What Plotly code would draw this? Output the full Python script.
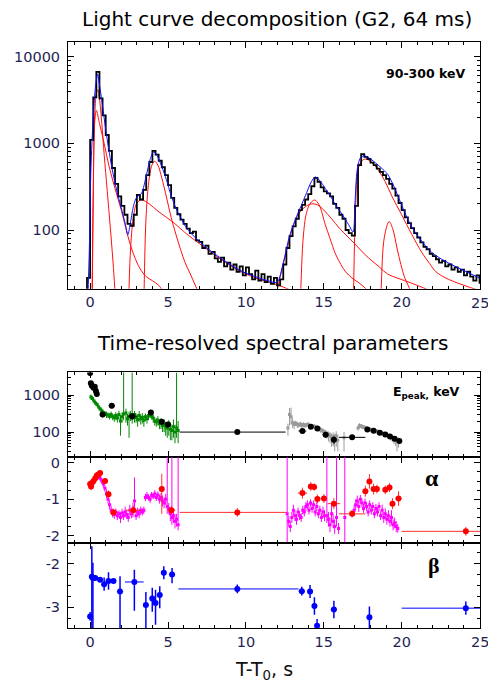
import plotly.graph_objects as go
import math

# ---------------- top panel: light curve (64 ms binned, shown at 0.2 s) ----------------
lc_start = -0.4
lc_width = 0.2
lc_counts = [12, 28, 1100, 3400, 6700, 3300, 2100, 1250, 820, 520,
             340, 245, 190, 150, 118, 112, 150, 255, 225, 290,
             430, 610, 820, 740, 630, 530, 430, 330, 235, 180,
             152, 132, 118, 104, 92, 96, 76, 73, 62, 66,
             53, 56, 47, 43, 48, 38, 42, 35, 40, 33,
             38, 30, 37, 31, 27, 34, 26, 31, 25, 29,
             24, 28, 23, 27, 40, 62, 85, 110, 135, 170,
             195, 225, 260, 320, 400, 360, 310, 280, 265, 245,
             200, 180, 150, 135, 100, 92, 86, 190, 560, 750,
             700, 660, 600, 560, 510, 470, 430, 390, 340, 300,
             250, 205, 170, 140, 120, 105, 92, 82, 72, 64,
             60, 53, 50, 46, 42, 44, 38, 40, 35, 37,
             33, 35, 30, 33, 29, 26, 30, 24]
lc_t = [round(lc_start + i * lc_width, 2) for i in range(len(lc_counts))]

# total fit (blue)
fit_t = [-0.15, -0.05, 0.05, 0.2, 0.35, 0.48, 0.62, 0.8, 1.0, 1.2,
         1.4, 1.7, 2.0, 2.25, 2.42, 2.6, 2.8, 3.0, 3.3, 3.6,
         3.85, 4.08, 4.3, 4.6, 4.9, 5.2, 5.5, 5.85, 6.2, 6.8,
         7.5, 8.2, 9.0, 9.8, 10.6, 11.4, 12.0, 12.4, 12.8, 13.3,
         13.6, 13.9, 14.2, 14.45, 14.7, 15.0, 15.4, 15.8, 16.2, 16.6,
         16.88, 17.0, 17.15, 17.35, 17.6, 17.9, 18.3, 18.7, 19.1, 19.5,
         19.9, 20.3, 20.7, 21.2, 21.8, 22.4, 23.2, 24.0, 24.8, 25.0]
fit_v = [15, 60, 500, 2000, 4600, 6300, 4500, 2700, 1450, 850,
         520, 290, 180, 120, 88, 125, 195, 240, 265, 420,
         650, 800, 720, 540, 380, 250, 180, 135, 105, 80,
         62, 50, 40, 33, 29, 26, 25, 42, 85, 150,
         200, 270, 360, 410, 380, 320, 250, 190, 150, 115,
         95, 200, 500, 680, 720, 680, 600, 520, 440, 320,
         215, 145, 105, 78, 58, 48, 40, 34, 29, 28]

# pulse components (red)
cA_t = [0.05, 0.12, 0.2, 0.3, 0.42, 0.5, 0.6, 0.75, 0.9, 1.1, 1.3, 1.5, 1.7, 1.9]
cA_v = [2, 15, 300, 2200, 3900, 4150, 3300, 1700, 750, 280, 105, 36, 10, 3]
cB_t = [0.1, 0.2, 0.3, 0.4, 0.6, 0.9, 1.2, 1.6, 2.0, 2.4, 2.8, 3.2, 3.6, 4.0, 4.4, 4.8, 5.2]
cB_v = [2, 200, 1800, 2400, 1700, 1000, 560, 300, 170, 88, 52, 36, 29, 26, 23, 18, 12]
cC_t = [2.35, 2.45, 2.6, 2.8, 3.0, 3.3, 3.8, 4.3, 4.9, 5.4, 6.2, 7.0, 7.9, 8.8, 9.7, 10.6, 11.5, 12.4, 13.2, 14.0]
cC_v = [2, 10, 62, 150, 205, 222, 200, 168, 140, 120, 90, 70, 53, 41, 33, 28, 25, 22, 19, 17]
cD_t = [3.35, 3.45, 3.6, 3.8, 4.0, 4.15, 4.35, 4.6, 4.9, 5.2, 5.5, 5.8, 6.1, 6.4, 6.8, 7.2]
cD_v = [2, 15, 150, 400, 580, 620, 560, 400, 240, 140, 90, 60, 42, 32, 22, 15]
cE_t = [11.7, 12.0, 12.4, 12.8, 13.3, 13.8, 14.2, 14.6, 15.0, 15.5, 16.0, 16.5, 17.0, 17.6, 18.1, 18.6, 19.1, 19.7, 20.2, 21.0, 21.8, 22.6]
cE_v = [8, 20, 40, 80, 145, 185, 200, 195, 170, 135, 105, 85, 69, 53, 44, 37, 31, 28, 26, 23, 20, 17]
cF_t = [13.4, 13.5, 13.7, 13.9, 14.15, 14.42, 14.7, 15.1, 15.4, 15.75, 16.1, 16.4, 16.8, 17.2, 17.7, 18.1]
cF_v = [3, 15, 90, 160, 205, 222, 195, 115, 80, 53, 40, 33, 28, 25, 21, 17]
cG_t = [16.85, 16.93, 17.05, 17.2, 17.45, 17.7, 18.1, 18.5, 18.95, 19.4, 20.0, 20.65, 21.3, 21.8, 22.2, 23.0, 24.0, 25.0]
cG_v = [3, 30, 200, 500, 630, 660, 600, 490, 360, 240, 150, 89, 55, 41, 33, 27, 23, 20]
cH_t = [18.55, 18.68, 18.9, 19.2, 19.45, 19.7, 19.95, 20.2, 20.55, 20.8]
cH_v = [3, 20, 85, 125, 100, 62, 40, 28, 20, 12]

# ---------------- Epeak ----------------
eg_t = [0.05, 0.15, 0.25, 0.35, 0.45, 0.55, 0.65, 0.75, 0.85, 0.95,
        1.05, 1.15, 1.25, 1.35, 1.45, 1.55, 1.65, 1.75, 1.85, 1.95,
        2.05, 2.15, 2.3, 2.4, 2.5, 2.6, 2.7, 2.85, 2.95, 3.05,
        3.15, 3.25, 3.35, 3.45, 3.55, 3.65, 3.75, 3.85, 3.95, 4.05,
        4.15, 4.25, 4.35, 4.45, 4.55, 4.65, 4.75, 4.85, 4.95, 5.05,
        5.15, 5.25, 5.35, 5.45, 5.55, 5.65]
eg_v = [900, 820, 700, 620, 560, 480, 420, 380, 340, 320,
        300, 290, 270, 300, 260, 250, 280, 240, 300, 200,
        260, 310, 330, 230, 260, 290, 240, 300, 250, 220,
        280, 230, 250, 210, 260, 230, 280, 300, 270, 240,
        200, 190, 210, 170, 180, 150, 160, 140, 130, 150,
        120, 110, 140, 100, 130, 110]
eg_up = [150, 120, 100, 90, 80, 70, 60, 60, 50, 50,
         60, 50, 50, 60, 50, 60, 70, 60, 80, 90,
         80, 4000, 100, 80, 100, 90, 4000, 70, 70, 80,
         90, 70, 80, 70, 60, 60, 70, 60, 50, 60,
         50, 50, 60, 50, 60, 50, 60, 50, 50, 60,
         60, 50, 80, 60, 4000, 90]
eg_dn = [150, 120, 100, 90, 80, 70, 60, 60, 50, 50,
         60, 50, 50, 60, 50, 60, 70, 60, 80, 120,
         80, 100, 150, 80, 190, 90, 70, 120, 70, 80,
         90, 70, 80, 70, 60, 60, 70, 60, 50, 60,
         50, 50, 60, 50, 60, 50, 60, 60, 60, 70,
         60, 50, 70, 50, 60, 60]

gr_t = [12.7, 12.8, 12.9, 13.0, 13.1, 13.2, 13.3, 13.4, 13.5, 13.6,
        13.7, 13.8, 13.9, 14.0, 14.1, 14.2, 14.3, 14.4, 14.5, 14.6,
        14.7, 14.8, 14.9, 15.0, 15.1, 15.2, 15.3, 15.4, 15.5, 15.6,
        15.7, 15.8, 15.9, 16.3,
        17.2, 17.3, 17.4, 17.5, 17.6, 17.7, 17.8, 17.9, 18.0, 18.1,
        18.2, 18.3, 18.4, 18.5, 18.6, 18.7, 18.8, 18.9, 19.0, 19.1,
        19.2, 19.3, 19.4, 19.5, 19.6, 19.7, 19.8]
gr_v = [130, 300, 260, 180, 160, 175, 160, 155, 165, 150,
        160, 152, 158, 162, 150, 146, 142, 145, 135, 128,
        122, 116, 110, 104, 97, 92, 86, 80, 72, 76,
        66, 80, 60, 70,
        130, 150, 145, 140, 135, 130, 125, 121, 118, 115,
        112, 108, 105, 102, 98, 95, 92, 89, 86, 82,
        78, 74, 70, 66, 62, 56, 58]
gr_up = [40, 150, 200, 60, 40, 30, 30, 25, 25, 25,
         25, 22, 22, 22, 20, 20, 20, 20, 20, 20,
         20, 20, 18, 18, 18, 18, 18, 20, 20, 22,
         25, 25, 25, 30,
         20, 25, 20, 20, 18, 18, 18, 16, 16, 16,
         15, 15, 15, 14, 14, 14, 14, 13, 13, 13,
         13, 13, 13, 13, 13, 14, 14]
gr_dn = [50, 150, 100, 50, 40, 30, 30, 25, 25, 25,
         25, 22, 22, 22, 20, 20, 20, 20, 20, 20,
         20, 20, 18, 18, 20, 25, 30, 30, 32, 35,
         36, 40, 30, 40,
         20, 25, 20, 20, 18, 18, 18, 16, 16, 16,
         15, 15, 15, 14, 14, 14, 14, 13, 13, 13,
         13, 15, 15, 18, 20, 26, 20]

eb_t = [0.0, 0.05, 0.11, 0.22, 0.3, 0.37, 0.43, 0.8, 1.39, 2.7, 3.9, 4.6, 5.0, 9.45,
        13.63, 14.17, 14.59, 15.12, 15.65, 16.82, 17.8, 18.2, 18.6, 18.95, 19.25, 19.55, 19.85]
eb_v = [4000, 2100, 1800, 1600, 1700, 1300, 1080, 300, 520, 270, 340, 190, 160, 100,
        107, 140, 125, 85, 62, 72, 118, 108, 96, 86, 76, 66, 57]
eb_xp = [0.03, 0.03, 0.03, 0.05, 0.04, 0.04, 0.05, 0.1, 0.2, 0.3, 0.15, 0.15, 0.2, 3.1,
         0.25, 0.15, 0.15, 0.2, 0.2, 0.85, 0.1, 0.1, 0.1, 0.1, 0.1, 0.1, 0.15]
eb_xm = [0.03, 0.03, 0.03, 0.05, 0.04, 0.04, 0.05, 0.1, 0.2, 0.3, 0.15, 0.15, 0.2, 3.7,
         0.25, 0.15, 0.15, 0.2, 0.2, 0.85, 0.1, 0.1, 0.1, 0.1, 0.1, 0.1, 0.15]
eb_ye = [600, 300, 250, 200, 200, 150, 120, 50, 80, 50, 50, 30, 30, 10,
         15, 15, 15, 15, 15, 8, 10, 10, 10, 10, 8, 8, 8]

# ---------------- alpha ----------------
mg_t1 = [round(0.05 + 0.1 * i, 2) for i in range(57)]
mg_a1 = [-0.62, -0.55, -0.5, -0.42, -0.4, -0.38, -0.42, -0.5, -0.58, -0.7,
         -0.85, -1.0, -1.15, -1.3, -1.38, -1.42, -1.35, -1.45, -1.4, -1.5,
         -1.38, -1.45, -1.35, -1.42, -1.5, -1.3, -1.4, -1.3, -1.05, -1.45,
         -1.35, -1.4, -1.3, -1.35, -1.3, -0.95, -0.9, -0.95, -1.0, -0.88,
         -0.92, -0.85, -0.95, -0.88, -1.0, -0.95, -1.05, -1.1, -1.0, -1.2,
         -1.25, -1.4, -1.5, -1.45, -1.6, -1.55, -1.7]
mg_up1 = [0.08, 0.08, 0.07, 0.07, 0.07, 0.07, 0.08, 0.08, 0.1, 0.1,
          0.12, 0.12, 0.12, 0.12, 0.12, 0.12, 0.1, 0.12, 0.1, 0.15,
          0.12, 0.12, 0.15, 0.12, 0.12, 0.15, 0.12, 0.2, 0.65, 0.12,
          0.12, 0.12, 0.1, 0.1, 0.1, 0.1, 0.1, 0.08, 0.1, 0.08,
          0.08, 0.1, 0.1, 0.1, 0.12, 0.12, 0.15, 0.15, 0.15, 3.0,
          0.15, 0.15, 3.0, 0.2, 0.2, 0.15, 3.0]
mg_dn1 = [0.08, 0.08, 0.07, 0.07, 0.07, 0.07, 0.08, 0.08, 0.1, 0.1,
          0.12, 0.12, 0.12, 0.12, 0.12, 0.12, 0.1, 0.12, 0.1, 0.15,
          0.12, 0.12, 0.15, 0.12, 0.12, 0.15, 0.12, 0.2, 0.3, 0.12,
          0.12, 0.12, 0.1, 0.1, 0.1, 0.1, 0.1, 0.08, 0.1, 0.08,
          0.08, 0.1, 0.1, 0.1, 0.12, 0.12, 0.15, 0.15, 0.15, 0.2,
          0.15, 0.2, 0.2, 0.2, 0.2, 0.2, 0.15]

mg_t2 = [12.65, 12.75, 12.85, 12.95, 13.05, 13.15, 13.25, 13.35, 13.45, 13.55,
         13.65, 13.75, 13.85, 13.95, 14.05, 14.15, 14.25, 14.35, 14.45, 14.55,
         14.65, 14.75, 14.85, 14.95, 15.05,
         15.2, 15.3, 15.4, 15.5, 15.6, 15.7, 15.82, 15.95, 16.35,
         16.95, 17.05, 17.15, 17.25, 17.35, 17.45, 17.55, 17.65, 17.75, 17.85,
         17.95, 18.05, 18.15, 18.25, 18.35, 18.45, 18.55, 18.65, 18.75, 18.85,
         18.95, 19.05, 19.15, 19.25, 19.35, 19.45, 19.55, 19.65, 19.75]
mg_a2 = [-1.4, -1.6, -1.75, -1.5, -1.3, -1.45, -1.55, -1.35, -1.45, -1.5,
         -1.3, -1.35, -1.2, -1.15, -1.3, -1.1, -1.25, -1.15, -1.35, -1.2,
         -1.4, -1.3, -1.5, -1.35, -1.45,
         -1.45, -1.55, -1.7, -1.4, -1.6, -1.75, -1.5, -1.8, -1.5,
         -1.3, -1.15, -1.05, -1.2, -1.0, -1.1, -1.25, -1.1, -1.2, -1.35,
         -1.15, -1.3, -1.2, -1.4, -1.25, -1.35, -1.2, -1.45, -1.3, -1.5,
         -1.4, -1.55, -1.45, -1.6, -1.5, -1.7, -1.65, -1.75, -1.8]
mg_up2 = [3.0, 0.15, 0.15, 0.15, 0.15, 0.15, 0.15, 0.12, 0.12, 0.12,
          0.12, 0.12, 0.12, 0.12, 0.12, 0.1, 0.12, 0.12, 0.12, 0.12,
          0.12, 0.12, 0.12, 0.15, 0.15,
          3.0, 0.2, 0.2, 0.25, 0.2, 0.2, 3.0, 0.15, 3.0,
          0.15, 0.15, 0.15, 0.15, 0.12, 0.12, 0.12, 0.12, 0.12, 0.12,
          0.12, 0.12, 0.12, 0.12, 0.12, 0.12, 0.12, 0.12, 0.15, 0.15,
          0.15, 0.15, 0.15, 0.15, 0.2, 0.15, 0.15, 0.15, 0.12]
mg_dn2 = [0.8, 0.15, 0.15, 0.15, 0.15, 0.15, 0.15, 0.12, 0.12, 0.12,
          0.12, 0.12, 0.12, 0.12, 0.12, 0.1, 0.12, 0.12, 0.12, 0.12,
          0.12, 0.12, 0.12, 0.15, 0.15,
          0.2, 0.2, 0.2, 0.25, 0.2, 0.2, 0.25, 0.15, 1.0,
          0.15, 0.15, 0.15, 0.15, 0.12, 0.12, 0.12, 0.12, 0.12, 0.12,
          0.12, 0.12, 0.12, 0.12, 0.12, 0.12, 0.12, 0.12, 0.15, 0.15,
          0.15, 0.15, 0.15, 0.15, 0.2, 0.15, 0.15, 0.15, 0.12]

ra_t = [0.0, 0.06, 0.11, 0.22, 0.33, 0.43, 0.53, 0.64, 0.96, 1.18, 1.5, 2.77, 4.6, 5.22, 9.45,
        13.63, 14.17, 14.38, 14.59, 15.01, 15.65, 16.82, 17.67, 17.93, 18.2, 18.41, 18.95, 19.22, 19.41, 19.8, 24.12]
ra_a = [-0.58, -0.65, -0.55, -0.5, -0.42, -0.35, -0.32, -0.28, -0.5, -0.86, -1.36, -1.3, -0.72, -1.3, -1.36,
        -0.83, -0.65, -0.66, -0.99, -0.98, -1.12, -1.4, -0.78, -0.51, -0.72, -0.72, -0.74, -0.68, -1.12, -0.98, -1.88]
ra_xp = [0.03, 0.03, 0.03, 0.05, 0.05, 0.05, 0.05, 0.06, 0.1, 0.1, 0.2, 0.5, 0.15, 0.25, 3.15,
         0.3, 0.12, 0.1, 0.12, 0.2, 0.4, 0.85, 0.12, 0.12, 0.12, 0.12, 0.12, 0.12, 0.1, 0.2, 4.12]
ra_xm = [0.03, 0.03, 0.03, 0.05, 0.05, 0.05, 0.05, 0.06, 0.1, 0.1, 0.2, 0.5, 0.15, 0.25, 3.7,
         0.3, 0.12, 0.1, 0.12, 0.2, 0.4, 0.85, 0.12, 0.12, 0.12, 0.12, 0.12, 0.12, 0.1, 0.2, 4.12]
ra_yp = [0.08, 0.1, 0.08, 0.08, 0.07, 0.07, 0.07, 0.07, 0.08, 0.1, 0.1, 0.12, 0.42, 0.12, 0.12,
         0.15, 0.12, 0.1, 0.12, 0.12, 0.15, 0.1, 0.15, 0.2, 0.15, 0.12, 0.12, 0.12, 0.15, 0.2, 0.12]
ra_ym = [0.08, 0.1, 0.08, 0.08, 0.07, 0.07, 0.07, 0.07, 0.08, 0.1, 0.1, 0.12, 0.68, 0.12, 0.12,
         0.15, 0.12, 0.1, 0.12, 0.12, 0.15, 0.1, 0.15, 0.2, 0.15, 0.12, 0.12, 0.12, 0.15, 0.2, 0.12]

# ---------------- beta ----------------
bb_t = [0.0, 0.11, 0.18, 0.33, 0.64, 0.9, 1.18, 1.5, 1.92, 2.84, 3.58, 3.99, 4.2, 4.47, 4.73, 5.26, 9.45,
        13.59, 14.12, 14.4, 14.57, 15.65, 17.93, 24.12]
bb_b = [-3.21, -2.3, -2.33, -2.33, -2.37, -2.47, -2.4, -2.4, -2.64, -2.42, -2.95, -2.8, -2.9, -2.72, -2.21, -2.25, -2.58,
        -2.63, -2.64, -2.97, -3.42, -3.05, -3.23, -3.02]
bb_xp = [0.03, 0.03, 0.04, 0.1, 0.12, 0.08, 0.15, 0.15, 0.2, 0.6, 0.15, 0.1, 0.1, 0.1, 0.1, 0.2, 3.93,
         0.2, 0.1, 0.1, 0.05, 0.2, 0.05, 4.12]
bb_xm = [0.03, 0.03, 0.04, 0.1, 0.12, 0.08, 0.15, 0.15, 0.2, 0.6, 0.15, 0.1, 0.1, 0.1, 0.1, 0.2, 3.78,
         0.2, 0.1, 0.1, 0.05, 0.2, 0.05, 4.12]
bb_yp = [0.1, 0.7, 0.35, 0.05, 0.05, 0.15, 0.2, 0.05, 0.35, 0.28, 0.3, 0.25, 0.3, 0.2, 0.15, 0.15, 0.1,
         0.1, 0.15, 0.2, 0.15, 0.2, 0.25, 0.15]
bb_ym = [0.1, 1.3, 1.2, 0.05, 0.05, 0.15, 0.2, 0.05, 0.9, 0.66, 0.6, 0.3, 0.5, 0.3, 0.15, 0.2, 0.1,
         0.1, 0.15, 0.2, 0.15, 0.2, 0.25, 0.15]

x_ticks = [0, 5, 10, 15, 20, 25]
x_ticktext = ["0", "5", "10", "15", "20", ""]   # last label drawn separately at the page edge
x_edge_label = "25"

# ---------------- figure ----------------
W, H = 488, 689
TXT = "#1f1f55"
FONT = "DejaVu Sans"

fig = go.Figure()

# top panel
for ct, cv in [(cA_t, cA_v), (cB_t, cB_v), (cC_t, cC_v), (cD_t, cD_v),
               (cE_t, cE_v), (cF_t, cF_v), (cG_t, cG_v), (cH_t, cH_v)]:
    fig.add_trace(go.Scatter(x=ct, y=cv, mode="lines", line=dict(color="#ff1010", width=1, shape="spline", smoothing=1.0),
                             xaxis="x", yaxis="y", hoverinfo="skip"))
fig.add_trace(go.Scatter(x=lc_t, y=lc_counts, mode="lines", line=dict(color="black", width=1.8, shape="hv"),
                         xaxis="x", yaxis="y"))
fig.add_trace(go.Scatter(x=fit_t, y=fit_v, mode="lines", line=dict(color="#1010ff", width=1, shape="spline", smoothing=0.8),
                         xaxis="x", yaxis="y"))

def errs(p, m, color, th=1):
    return dict(type="data", symmetric=False, array=p, arrayminus=m, color=color, thickness=th, width=0)

# Epeak panel
fig.add_trace(go.Scatter(x=eg_t, y=eg_v, mode="markers", marker=dict(color="#008800", size=3, symbol="square"),
                         error_y=errs(eg_up, eg_dn, "#008800"), xaxis="x2", yaxis="y2"))
fig.add_trace(go.Scatter(x=gr_t, y=gr_v, mode="markers", marker=dict(color="#999999", size=3, symbol="square"),
                         error_y=errs(gr_up, gr_dn, "#999999"), xaxis="x2", yaxis="y2"))
fig.add_trace(go.Scatter(x=eb_t, y=eb_v, mode="markers", marker=dict(color="black", size=6),
                         error_x=errs(eb_xp, eb_xm, "black"), error_y=errs(eb_ye, eb_ye, "black"),
                         xaxis="x2", yaxis="y2"))

# alpha panel
fig.add_trace(go.Scatter(x=mg_t1, y=mg_a1, mode="markers", marker=dict(color="#ff00ff", size=3, symbol="square"),
                         error_y=errs(mg_up1, mg_dn1, "#ff00ff"), xaxis="x3", yaxis="y3"))
fig.add_trace(go.Scatter(x=mg_t2, y=mg_a2, mode="markers", marker=dict(color="#ff00ff", size=3, symbol="square"),
                         error_y=errs(mg_up2, mg_dn2, "#ff00ff"), xaxis="x3", yaxis="y3"))
fig.add_trace(go.Scatter(x=ra_t, y=ra_a, mode="markers", marker=dict(color="#ff0000", size=6),
                         error_x=errs(ra_xp, ra_xm, "#ff3030"), error_y=errs(ra_yp, ra_ym, "#ff3030"),
                         xaxis="x3", yaxis="y3"))

# beta panel
fig.add_trace(go.Scatter(x=bb_t, y=bb_b, mode="markers", marker=dict(color="#0000ff", size=6),
                         error_x=errs(bb_xp, bb_xm, "#0000ff"), error_y=errs(bb_yp, bb_ym, "#0000ff", 1.5),
                         xaxis="x4", yaxis="y4"))

x_dom = [68 / W, 480 / W]

def xaxis(dom_anchor, labels):
    return dict(domain=x_dom, anchor=dom_anchor, range=[-1.42, 25.03], showline=True, linecolor="black",
                linewidth=1, mirror="allticks", ticks="inside", ticklen=6, tickwidth=1, tickcolor="black",
                tickmode="array", tickvals=x_ticks, ticktext=x_ticktext,
                showticklabels=labels, automargin=False,
                tickfont=dict(family=FONT, size=14.5, color=TXT),
                minor=dict(ticks="inside", ticklen=3, tickwidth=1, tickcolor="black", dtick=1, tick0=0),
                showgrid=False, zeroline=False)

def ydom(top, bot):
    return [1 - bot / H, 1 - top / H]

def log_minor(decades):
    vals = []
    for d in decades:
        for k in range(2, 10):
            vals.append(k * 10 ** d)
    return vals

common_y = dict(showline=True, linecolor="black", linewidth=1, mirror="allticks", ticks="inside",
                ticklen=6, tickwidth=1, tickcolor="black", showgrid=False, zeroline=False,
                tickfont=dict(family=FONT, size=14.5, color=TXT), ticklabelstandoff=4)

fig.update_layout(
    width=W, height=H, margin=dict(l=0, r=0, t=0, b=0),
    paper_bgcolor="white", plot_bgcolor="white", showlegend=False,
    xaxis=xaxis("y", True),
    xaxis2=xaxis("y2", False),
    xaxis3=xaxis("y3", False),
    xaxis4=xaxis("y4", True),
    yaxis=dict(domain=ydom(40, 288), anchor="x", type="log", range=[math.log10(21), 4.172],
               tickmode="array", tickvals=[100, 1000, 10000], ticktext=["100", "1000", "10000"],
               minor=dict(ticks="inside", ticklen=3, tickcolor="black", tickmode="array", tickvals=log_minor([1, 2, 3])),
               **common_y),
    yaxis2=dict(domain=ydom(372, 457), anchor="x2", type="log", range=[1.324, 3.62],
                tickmode="array", tickvals=[100, 1000], ticktext=["100", "1000"],
                minor=dict(ticks="inside", ticklen=3, tickcolor="black", tickmode="array", tickvals=log_minor([1, 2, 3])),
                **common_y),
    yaxis3=dict(domain=ydom(457, 543), anchor="x3", range=[-2.19, 0.16],
                tickmode="array", tickvals=[0, -1, -2], ticktext=["0", "-1", "-2"],
                minor=dict(ticks="inside", ticklen=3, tickcolor="black", dtick=0.25, tick0=0),
                **common_y),
    yaxis4=dict(domain=ydom(543, 629), anchor="x4", range=[-3.48, -1.52],
                tickmode="array", tickvals=[-2, -3], ticktext=["-2", "-3"],
                minor=dict(ticks="inside", ticklen=3, tickcolor="black", dtick=0.25, tick0=0),
                **common_y),
)

def ann(text, px, py, size, family=FONT, xanchor="center", color="black"):
    return dict(text=text, x=px / W, y=1 - py / H, xref="paper", yref="paper", showarrow=False,
                xanchor=xanchor, yanchor="middle", font=dict(family=family, size=size, color=color))

def edge_label(xref, py):
    return dict(text=x_edge_label, x=x_ticks[-1], xref=xref, y=1 - py / H, yref="paper", showarrow=False,
                xanchor="center", yanchor="middle", font=dict(family=FONT, size=14.5, color=TXT))

fig.update_layout(annotations=[
    ann("Light curve decomposition (G2, 64 ms)", 277, 17, 20),
    ann("Time-resolved spectral parameters", 272, 342, 20),
    ann("<b>90-300 keV</b>", 425, 72, 12.5),
    ann("<b>E<sub>peak,</sub> keV</b>", 462, 392, 12.5, xanchor="right"),
    ann("<b>α</b>", 432, 478, 24, family="Liberation Serif"),
    ann("<b>β</b>", 434, 566, 22, family="Liberation Serif"),
    ann("T-T<sub>0</sub>, s", 264, 671, 19, color="#111111"),
    edge_label("x", 302),
    edge_label("x4", 643),
])

fig.write_html("out.html", config={"displayModeBar": False},
               post_script="document.body.style.margin='0px';document.body.style.padding='0px';"
                           "document.documentElement.style.overflow='hidden';")
